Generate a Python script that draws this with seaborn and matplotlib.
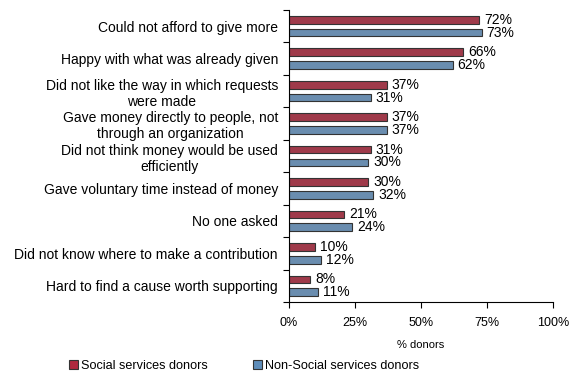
import matplotlib
matplotlib.use("Agg")
import matplotlib.pyplot as plt
import seaborn as sns
import pandas as pd
import numpy as np
from matplotlib.patches import Patch

categories = [
    "Could not afford to give more",
    "Happy with what was already given",
    "Did not like the way in which requests\nwere made",
    "Gave money directly to people, not\nthrough an organization",
    "Did not think money would be used\nefficiently",
    "Gave voluntary time instead of money",
    "No one asked",
    "Did not know where to make a contribution",
    "Hard to find a cause worth supporting",
]
social = [72, 66, 37, 37, 31, 30, 21, 10, 8]
non_social = [73, 62, 31, 37, 30, 32, 24, 12, 11]
series = ["Social services donors", "Non-Social services donors"]
colors = ["#B0293F", "#5E8DBA"]
xticks = [0, 25, 50, 75, 100]

sns.set_theme(style="white")
plt.rcParams["font.family"] = ["Liberation Sans", "DejaVu Sans"]
plt.rcParams["text.color"] = "black"
plt.rcParams["xtick.color"] = "black"
plt.rcParams["ytick.color"] = "black"
plt.rcParams["axes.labelcolor"] = "black"

df = pd.DataFrame({
    "reason": categories * 2,
    "value": social + non_social,
    "series": [series[0]] * len(categories) + [series[1]] * len(categories),
})

fig = plt.figure(figsize=(5.72, 3.72), dpi=100)
ax = fig.add_axes([289 / 572, 1 - 302 / 372, (553 - 289) / 572, (302 - 10) / 372])

sns.barplot(data=df, y="reason", x="value", hue="series", order=categories,
            hue_order=series, palette=colors, orient="h", width=0.79, gap=0.40,
            edgecolor="#333333", linewidth=0.8, legend=False, ax=ax)

for cont in ax.containers:
    ax.bar_label(cont, labels=[f"{int(v)}%" for v in cont.datavalues],
                 padding=3.5, fontsize=10, color="black")

ax.set_xlim(0, 100)
ax.set_ylim(len(categories) - 0.5, -0.5)
ax.set_xticks(xticks)
ax.set_xticklabels([f"{t}%" for t in xticks], fontsize=9)
ax.set_xlabel("% donors", fontsize=8, labelpad=8)
ax.set_ylabel("")
ax.tick_params(axis="y", length=0, labelsize=10, pad=8)
ax.set_yticks(np.arange(-0.5, len(categories), 1), minor=True)
ax.tick_params(axis="y", which="minor", length=4, direction="out", color="black", width=0.8, left=True)
ax.tick_params(axis="x", length=4, direction="out", color="black", width=0.8, pad=7, bottom=True)
for lbl in ax.get_yticklabels():
    lbl.set_multialignment("center")
for s in ["top", "right"]:
    ax.spines[s].set_visible(False)
for s in ["left", "bottom"]:
    ax.spines[s].set_color("black")
    ax.spines[s].set_linewidth(0.8)

handles = [Patch(facecolor=c, edgecolor="#333333", linewidth=0.8) for c in colors]
fig.legend(handles, series, loc="center", bbox_to_anchor=(244 / 572, 1 - 366 / 372),
           ncol=2, frameon=False, fontsize=9.1, handlelength=0.7, handleheight=0.7,
           handletextpad=0.25, columnspacing=3.6, borderaxespad=0, borderpad=0)

fig.savefig("out.png", dpi=100)
